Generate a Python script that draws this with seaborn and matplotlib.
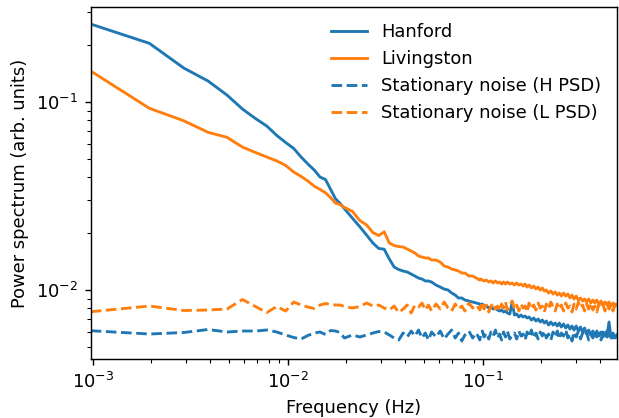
import numpy as np
import pandas as pd
import matplotlib
matplotlib.use("Agg")
import matplotlib.pyplot as plt
import seaborn as sns

# frequency bins (k / 1024 Hz)
bins = [1, 2, 3, 4, 5, 6, 7, 8, 9, 10, 11, 12, 13, 14, 15, 16, 17, 18, 19, 20,
        22, 24, 26, 28, 30, 32, 34, 36, 38,
        40, 42, 44, 46, 48, 50, 52, 54, 56, 59, 62, 65, 68, 71, 74, 77, 80, 83,
        87, 91, 95, 99,
        100, 102, 104, 107, 110, 113, 116, 119, 122, 125, 128, 131, 134, 137,
        141, 145, 149, 153, 157, 161, 165, 169, 173, 177, 182, 187, 192, 197,
        202, 207, 212, 217, 223, 229, 235, 241, 247, 253, 259, 266, 273, 280,
        287, 294, 301, 309, 317, 325, 333, 341, 349, 358, 367, 376, 385, 394,
        404, 414, 424, 434, 444, 455, 466, 477, 489, 502]

hanford = [0.2599, 0.2052, 0.1517, 0.1293, 0.1089, 0.0918, 0.0817, 0.0745, 0.0664, 0.0609,
           0.0566, 0.0510, 0.0468, 0.0435, 0.0399, 0.0387, 0.0343, 0.0306, 0.0289, 0.0271,
           0.0241, 0.0217, 0.0196, 0.01778, 0.01664, 0.01648, 0.01462, 0.01325, 0.01285,
           0.01262, 0.01247, 0.01216, 0.01187, 0.01158, 0.01144, 0.01117, 0.01117, 0.01103, 0.01063,
           0.01037, 0.01012, 0.01000, 0.009639, 0.009406, 0.009067, 0.009067, 0.008848, 0.008740, 0.008634,
           0.008529, 0.008425, 0.008322, 0.008425, 0.008221, 0.008221, 0.008022, 0.008121, 0.007925, 0.008022,
           0.007828, 0.007733, 0.007828, 0.007639, 0.007733, 0.007546, 0.007454, 0.008634, 0.007363, 0.007454,
           0.007185, 0.007363, 0.007185, 0.007274, 0.007098, 0.007185, 0.006926, 0.007098, 0.006841, 0.007011,
           0.006758, 0.006926, 0.006676, 0.006841, 0.006514, 0.006758, 0.006514, 0.006676, 0.006435, 0.006676,
           0.006357, 0.006595, 0.006280, 0.006514, 0.006203, 0.006435, 0.006128, 0.006435, 0.006053, 0.006357,
           0.005980, 0.006280, 0.005835, 0.006128, 0.005764, 0.006053, 0.005694, 0.006053, 0.005694, 0.005980,
           0.005625, 0.005907, 0.005625, 0.006758, 0.005556, 0.005907, 0.005556, 0.005764]

livingston = [0.1462, 0.0926, 0.0795, 0.0690, 0.0649, 0.0576, 0.0539, 0.0510, 0.0486, 0.0460,
              0.0424, 0.0402, 0.0380, 0.0357, 0.0343, 0.0329, 0.0310, 0.0290, 0.0285, 0.0275,
              0.0262, 0.0234, 0.0222, 0.0202, 0.0195, 0.0204, 0.01778, 0.01724, 0.01703,
              0.01693, 0.01652, 0.01612, 0.01573, 0.01516, 0.01498, 0.01480, 0.01480, 0.01444, 0.01444,
              0.01409, 0.01342, 0.01325, 0.01293, 0.01278, 0.01262, 0.01231, 0.01231, 0.01187, 0.01187,
              0.01158, 0.01130, 0.01144, 0.01130, 0.01117, 0.01130, 0.01103, 0.01117, 0.01090, 0.01117,
              0.01090, 0.01103, 0.01076, 0.01103, 0.01076, 0.01103, 0.01076, 0.01090, 0.01063, 0.01090,
              0.01063, 0.01076, 0.01050, 0.01076, 0.01037, 0.01063, 0.01025, 0.01050, 0.01012, 0.01037,
              0.01000, 0.01025, 0.009878, 0.01000, 0.009639, 0.009878, 0.009522, 0.009758, 0.009406, 0.009639,
              0.009292, 0.009639, 0.009292, 0.009522, 0.009067, 0.009406, 0.008957, 0.009292, 0.008848, 0.009067,
              0.008740, 0.008957, 0.008634, 0.008957, 0.008529, 0.008848, 0.008529, 0.008848, 0.008425, 0.008740,
              0.008322, 0.008634, 0.008322, 0.008634, 0.008221, 0.008529, 0.008221, 0.008425]

noise_h = [0.006075, 0.005835, 0.005943, 0.006165, 0.005980, 0.006053, 0.006053, 0.006128, 0.005980, 0.005764,
           0.005590, 0.005489, 0.005729, 0.005907, 0.005980, 0.005799, 0.006090, 0.006053, 0.005943, 0.005556,
           0.005764, 0.005625, 0.005764, 0.005907, 0.006016, 0.005980, 0.005764, 0.005556, 0.005422,
           0.005907, 0.005625, 0.006053, 0.005694, 0.006128, 0.005556, 0.005907, 0.005422, 0.005980, 0.005625,
           0.006053, 0.005489, 0.005835, 0.006128, 0.005556, 0.005907, 0.005356, 0.005764, 0.006053, 0.005556,
           0.005907, 0.005422, 0.005835, 0.006053, 0.005625, 0.005907, 0.005489, 0.005980, 0.005694, 0.006128,
           0.005556, 0.005835, 0.005422, 0.005980, 0.005625, 0.006053, 0.005489, 0.005764, 0.005907, 0.005489,
           0.006053, 0.005694, 0.005835, 0.005422, 0.005980, 0.005625, 0.006128, 0.005556, 0.005907, 0.005489,
           0.005980, 0.005694, 0.006053, 0.005556, 0.005835, 0.005422, 0.005980, 0.005625, 0.006053, 0.005489,
           0.005907, 0.005694, 0.006128, 0.005556, 0.005835, 0.005356, 0.005980, 0.005625, 0.006053, 0.005489,
           0.005907, 0.005694, 0.005980, 0.005422, 0.005835, 0.005556, 0.006053, 0.005625, 0.005907, 0.005422,
           0.005980, 0.005694, 0.006053, 0.005489, 0.005835, 0.005556, 0.005980, 0.005694]

noise_l = [0.007667, 0.008221, 0.007780, 0.007828, 0.007925, 0.008902, 0.008171, 0.007592, 0.008171, 0.007733,
           0.008634, 0.008322, 0.008121, 0.007973, 0.008322, 0.008477, 0.008373, 0.008322, 0.008322, 0.008171,
           0.008022, 0.008171, 0.008529, 0.008221, 0.008322, 0.008022, 0.007828, 0.008221, 0.007592,
           0.007925, 0.008322, 0.007546, 0.008322, 0.008121, 0.008529, 0.007828, 0.008322, 0.007733, 0.008425,
           0.007925, 0.008634, 0.008022, 0.007733, 0.008425, 0.007925, 0.008221, 0.007733, 0.008529, 0.008022,
           0.008322, 0.007828, 0.008121, 0.008634, 0.007925, 0.008322, 0.007639, 0.008221, 0.008529, 0.007925,
           0.008221, 0.007733, 0.008425, 0.008022, 0.008634, 0.007828, 0.008221, 0.008740, 0.007925, 0.008322,
           0.007733, 0.008425, 0.008022, 0.008221, 0.007639, 0.008529, 0.007925, 0.008322, 0.007828, 0.008529,
           0.008022, 0.008221, 0.007639, 0.008425, 0.007925, 0.008634, 0.008121, 0.007733, 0.008425, 0.007925,
           0.008322, 0.007733, 0.008529, 0.008022, 0.008221, 0.007639, 0.008425, 0.007925, 0.008634, 0.008022,
           0.008322, 0.007733, 0.008425, 0.007925, 0.008529, 0.007828, 0.008221, 0.007639, 0.008425, 0.008022,
           0.008322, 0.007733, 0.008529, 0.007925, 0.008322, 0.007733, 0.008425, 0.008022]

freq = np.array(bins) / 1024.0

dpi = 129
fig = plt.figure(figsize=(619 / dpi, 418 / dpi), dpi=dpi)
ax = fig.add_axes([0.1465, 0.1404, 0.9973 - 0.1465, 0.9825 - 0.1404])

blue = "#1f77b4"
orange = "#ff7f0e"

sns.lineplot(x=freq, y=hanford, ax=ax, color=blue, label="Hanford", linewidth=1.6)
sns.lineplot(x=freq, y=livingston, ax=ax, color=orange, label="Livingston", linewidth=1.6)
sns.lineplot(x=freq, y=noise_h, ax=ax, color=blue, linestyle="--",
             label="Stationary noise (H PSD)", linewidth=1.6)
sns.lineplot(x=freq, y=noise_l, ax=ax, color=orange, linestyle="--",
             label="Stationary noise (L PSD)", linewidth=1.6)

ax.set_xscale("log")
ax.set_yscale("log")
ax.set_xlim(freq[0], freq[-1])
ax.set_ylim(0.00428, 0.319)
ax.set_xlabel("Frequency (Hz)")
ax.set_ylabel("Power spectrum (arb. units)")
ax.legend(loc="upper right", frameon=False)

fig.savefig("out.png", dpi=dpi)
